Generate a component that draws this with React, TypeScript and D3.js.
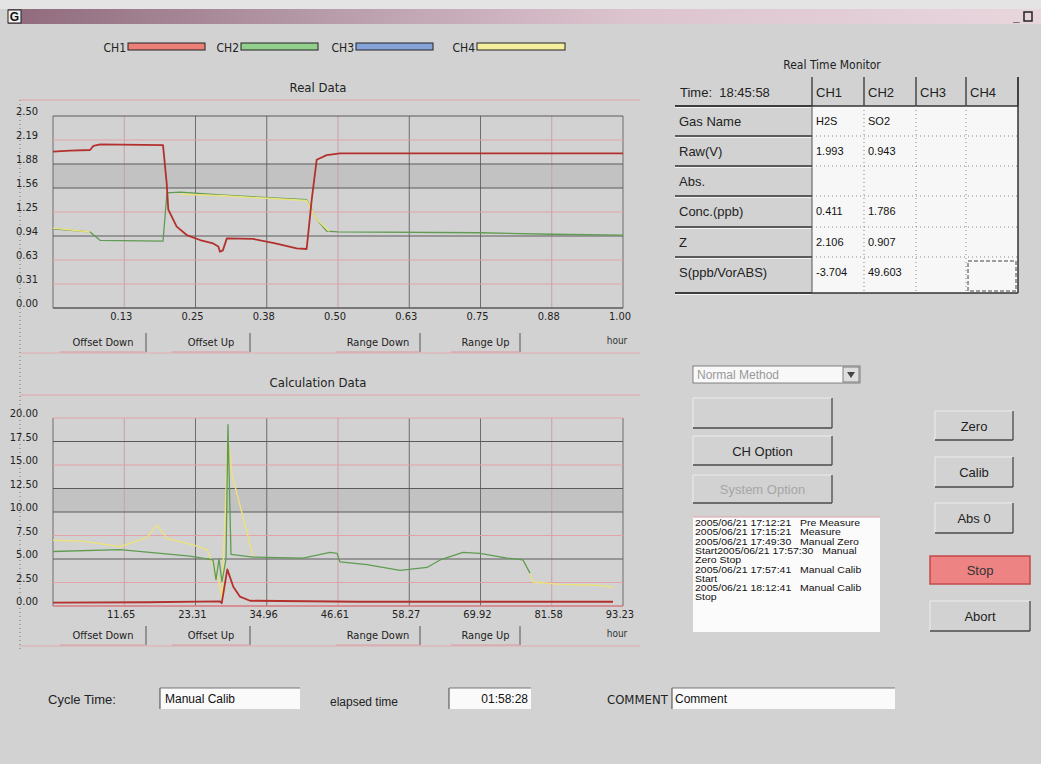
import React, { useEffect } from "react";
import * as d3 from "d3";

type Pt = [number, number | null];

// ---- Real Data (hours vs volts) ----
const realYLabels = ["0.00", "0.31", "0.63", "0.94", "1.25", "1.56", "1.88", "2.19", "2.50"];
const realXLabels = ["0.13", "0.25", "0.38", "0.50", "0.63", "0.75", "0.88", "1.00"];

const realCh1: Pt[] = [
  [0, 2.035], [0.03, 2.05], [0.065, 2.057], [0.071, 2.11], [0.083, 2.13], [0.193, 2.12],
  [0.1995, 1.62], [0.2023, 1.28], [0.217, 1.06], [0.2346, 0.95], [0.258, 0.885], [0.281, 0.84],
  [0.29, 0.8], [0.293, 0.733], [0.298, 0.75], [0.305, 0.907], [0.351, 0.9], [0.39, 0.84],
  [0.4275, 0.777], [0.445, 0.768], [0.4539, 1.41], [0.4626, 1.93], [0.4802, 1.99], [0.5035, 2.014],
  [1.0, 2.014],
];
const realCh2: Pt[] = [
  [0, 1.03], [0.065, 0.99], [0.083, 0.88], [0.193, 0.87], [0.2, 1.5], [0.223, 1.51],
  [0.3, 1.47], [0.445, 1.41], [0.463, 1.15], [0.48, 1.0], [0.5, 0.99], [0.75, 0.98],
  [0.875, 0.96], [1.0, 0.95],
];
const realCh4: Pt[] = [
  [0, 1.04], [0.065, 0.99], [0.07, null], [0.222, 1.48], [0.3, 1.46], [0.445, 1.4],
  [0.463, 1.15], [0.485, 1.0],
];

// ---- Calculation Data (hours vs ppb) ----
const calcYLabels = ["0.00", "2.50", "5.00", "7.50", "10.00", "12.50", "15.00", "17.50", "20.00"];
const calcXLabels = ["11.65", "23.31", "34.96", "46.61", "58.27", "69.92", "81.58", "93.23"];

const calcCh1: Pt[] = [
  [0, 0.35], [15.37, 0.4], [27.31, 0.5], [27.6, 0.3], [28.51, 3.9], [29.49, 2.05],
  [30.59, 0.99], [32.22, 0.56], [50, 0.45], [91.6, 0.45],
];
const calcCh2: Pt[] = [
  [0, 5.8], [10.96, 6.0], [22.41, 5.3], [26.17, 4.9], [26.66, 2.8], [27.15, 5.0],
  [27.64, 2.6], [28.3, 5.0], [28.62, 19.3], [29.11, 5.5], [32.71, 5.2], [40.89, 5.1],
  [45.31, 5.7], [46.45, 5.6], [46.94, 4.7], [51.36, 4.4], [56.76, 3.8], [61.17, 4.1],
  [63.3, 4.9], [67.06, 5.7], [69.84, 5.6], [74.26, 5.1], [76.87, 4.9], [78.02, 3.5],
];
const calcCh4: Pt[] = [
  [0, 7.0], [4.91, 6.9], [10.96, 6.3], [15.37, 7.3], [17.01, 8.6], [18.65, 7.2],
  [22.9, 6.5], [25.19, 6.0], [26.99, 3.0], [27.64, 0.8], [28.62, 18.0], [29.28, 14.0],
  [32.71, 5.3], [33.0, null], [78.02, 3.5], [78.51, 2.55], [82.93, 2.3], [89.47, 2.2], [91.6, 2.0],
];

// ---- legend / panel content ----
const channelNames = ["CH1", "CH2", "CH3", "CH4"];
const channelSwatch = ["#ec7f77", "#93cf8c", "#86a3d9", "#f3ef9c"];
const channelLine = ["#b3302c", "#5f9c52", "#6f8fcf", "#ece27c"];

const monitorTime = "Time:  18:45:58";
const rowLabels = ["Gas Name", "Raw(V)", "Abs.", "Conc.(ppb)", "Z", "S(ppb/VorABS)"];
const ch1Values = ["H2S", "1.993", "", "0.411", "2.106", "-3.704"];
const ch2Values = ["SO2", "0.943", "", "1.786", "0.907", "49.603"];

const chartButtons = ["Offset Down", "Offset Up", "Range Down", "Range Up"];
const logLines = [
  "2005/06/21 17:12:21   Pre Measure",
  "2005/06/21 17:15:21   Measure",
  "2005/06/21 17:49:30   Manual Zero",
  "Start2005/06/21 17:57:30   Manual",
  "Zero Stop",
  "2005/06/21 17:57:41   Manual Calib",
  "Start",
  "2005/06/21 18:12:41   Manual Calib",
  "Stop",
];

const NARROW = "'DejaVu Sans','Liberation Sans',sans-serif";
const SANS = "'Liberation Sans',Arial,sans-serif";
const COND = { fontStretch: "condensed" } as React.CSSProperties;
const BG = "#d2d2d2";
const DARK_GRID = "#5a5a5a";
const PINK_GRID = "#e2a2a8";

// gridline colour per horizontal tick (bottom to top)
const realHStyle = [DARK_GRID, PINK_GRID, PINK_GRID, DARK_GRID, PINK_GRID, DARK_GRID, DARK_GRID, PINK_GRID, DARK_GRID];
const calcHStyle = ["#d77a80", PINK_GRID, DARK_GRID, PINK_GRID, DARK_GRID, DARK_GRID, PINK_GRID, DARK_GRID, PINK_GRID];

// horizontal placement of the four buttons under each chart
const buttonSpans: [number, number][] = [[60, 146], [172, 250], [336, 420], [451, 520]];

type ChartProps = {
  title: string;
  titleY: number;
  frameY: number;
  yTop: number;
  yBot: number;
  xMax: number;
  yMax: number;
  xLabels: string[];
  yLabels: string[];
  hStyle: string[];
  band: number;
  series: { data: Pt[]; color: string; width: number }[];
  btnY: number;
};

function Chart(p: ChartProps) {
  const x = d3.scaleLinear().domain([0, p.xMax]).range([53, 623]);
  const y = d3.scaleLinear().domain([0, p.yMax]).range([p.yBot, p.yTop]);
  const step = p.yMax / (p.yLabels.length - 1);
  const yTicks = p.yLabels.map((_, i) => step * i);
  const xTicks = p.xLabels.map((_, i) => (p.xMax / p.xLabels.length) * (i + 1));
  const line = d3
    .line<Pt>()
    .defined((d) => d[1] !== null)
    .x((d) => x(d[0]))
    .y((d) => y(d[1] as number));
  return (
    <g>
      <text x={318} y={p.titleY} textAnchor="middle" fontFamily={NARROW} style={COND} fontSize={13} fill="#222">
        {p.title}
      </text>
      <line x1={20} x2={640} y1={p.frameY} y2={p.frameY} stroke={PINK_GRID} strokeWidth={1.2} />
      {/* shaded band */}
      <rect
        x={x(0)}
        y={y((p.band + 1) * step)}
        width={x(p.xMax) - x(0)}
        height={y(p.band * step) - y((p.band + 1) * step)}
        fill="#c2c2c2"
      />
      {/* vertical grid */}
      {[0, ...xTicks].map((t, i) => (
        <line key={"v" + i} x1={x(t)} x2={x(t)} y1={p.yTop} y2={p.yBot} stroke={i % 3 === 1 ? "#c9a0a6" : "#6d6d6d"} strokeWidth={1} />
      ))}
      {/* horizontal grid */}
      {yTicks.map((t, i) => (
        <line key={"h" + i} x1={x(0)} x2={x(p.xMax)} y1={y(t)} y2={y(t)} stroke={p.hStyle[i]} strokeWidth={i === 0 ? 1.4 : 1.2} />
      ))}
      {/* y labels */}
      {yTicks.map((t, i) => (
        <text key={"yl" + i} x={38} y={y(t) - 1} textAnchor="end" fontFamily={NARROW} style={COND} fontSize={11} fill="#222">
          {p.yLabels[i]}
        </text>
      ))}
      {/* x labels */}
      {xTicks.map((t, i) => (
        <text key={"xl" + i} x={x(t) - 3} y={p.yBot + 12} textAnchor="middle" fontFamily={NARROW} style={COND} fontSize={11} fill="#222">
          {p.xLabels[i]}
        </text>
      ))}
      {/* series */}
      {p.series.map((s, i) => (
        <path key={"s" + i} d={line(s.data) || ""} fill="none" stroke={s.color} strokeWidth={s.width} strokeLinejoin="round" />
      ))}
      {/* buttons */}
      {chartButtons.map((b, i) => {
        const [a, c] = buttonSpans[i];
        return (
          <g key={"b" + i}>
            <line x1={c} x2={c} y1={p.btnY} y2={p.btnY + 19} stroke="#555" />
            <line x1={a} x2={c} y1={p.btnY + 19} y2={p.btnY + 19} stroke="#d89aa0" />
            <text x={(a + c) / 2} y={p.btnY + 13} textAnchor="middle" fontFamily={NARROW} style={COND} fontSize={11} fill="#222">
              {b}
            </text>
          </g>
        );
      })}
      <text x={617} y={p.btnY + 11} textAnchor="middle" fontFamily={NARROW} style={COND} fontSize={10} fill="#333">
        hour
      </text>
      <line x1={20} x2={640} y1={p.btnY + 20} y2={p.btnY + 20} stroke={PINK_GRID} strokeWidth={0.8} />
    </g>
  );
}

function Button({ x, y, w, h, label, color = "#222", stroke = "#4a4a4a" }: any) {
  return (
    <g>
      <line x1={x} x2={x + w} y1={y} y2={y} stroke="#ececec" />
      <line x1={x} x2={x} y1={y} y2={y + h} stroke="#ececec" />
      <line x1={x + w} x2={x + w} y1={y} y2={y + h} stroke={stroke} strokeWidth={1.3} />
      <line x1={x} x2={x + w} y1={y + h} y2={y + h} stroke={stroke} strokeWidth={1.3} />
      {label && (
        <text x={x + w / 2} y={y + h / 2 + 5} textAnchor="middle" fontFamily={SANS} fontSize={13} fill={color}>
          {label}
        </text>
      )}
    </g>
  );
}

export default function App() {
  useEffect(() => {
    document.body.style.margin = "0";
  }, []);

  const colX = [675, 812, 864, 916, 966, 1018];
  const rowY = [77, 106, 136, 166, 196, 227, 257, 293];

  return (
    <svg width={1041} height={764} style={{ display: "block", position: "absolute", left: 0, top: 0 }}>
      <defs>
        <linearGradient id="titlebar" x1="0" x2="1" y1="0" y2="0">
          <stop offset="0" stopColor="#8f6a7c" />
          <stop offset="0.3" stopColor="#b69aa8" />
          <stop offset="0.6" stopColor="#dcc4cf" />
          <stop offset="1" stopColor="#e8d6dd" />
        </linearGradient>
      </defs>
      <rect x={0} y={0} width={1041} height={764} fill={BG} />
      <rect x={0} y={0} width={1041} height={9} fill="#e4e4e4" />

      {/* title bar */}
      <rect x={8} y={9} width={1033} height={15} fill="url(#titlebar)" />
      <rect x={8} y={10} width={13} height={13} fill="#f0f0f0" stroke="#222" />
      <text x={14.5} y={21} textAnchor="middle" fontFamily={SANS} fontWeight="bold" fontSize={12} fill="#111">
        G
      </text>
      <text x={1013} y={21} fontFamily={SANS} fontWeight="bold" fontSize={12} fill="#222">
        _
      </text>
      <rect x={1024} y={12} width={8} height={9} fill="none" stroke="#222" strokeWidth={1.5} />

      <line x1={20} x2={20} y1={100} y2={650} stroke="#777" strokeDasharray="1 3" />

      {/* legend */}
      {channelNames.map((c, i) => {
        const lx = [106, 219, 334, 455][i];
        return (
          <g key={c}>
            <text x={lx + 20} y={52} textAnchor="end" fontFamily={NARROW} style={COND} fontSize={12} fill="#222">
              {c}
            </text>
            <rect x={lx + 22} y={43} width={i === 3 ? 88 : 77} height={7} fill={channelSwatch[i]} stroke="#222" strokeWidth={1} />
          </g>
        );
      })}

      <Chart
        title="Real Data"
        titleY={92}
        frameY={100}
        yTop={116}
        yBot={308}
        xMax={1}
        yMax={2.5}
        xLabels={realXLabels}
        yLabels={realYLabels}
        hStyle={realHStyle}
        band={5}
        series={[
          { data: realCh2, color: channelLine[1], width: 1.3 },
          { data: realCh4, color: channelLine[3], width: 1.5 },
          { data: realCh1, color: channelLine[0], width: 1.8 },
        ]}
        btnY={333}
      />
      <Chart
        title="Calculation Data"
        titleY={387}
        frameY={395}
        yTop={418}
        yBot={606}
        xMax={93.23}
        yMax={20}
        xLabels={calcXLabels}
        yLabels={calcYLabels}
        hStyle={calcHStyle}
        band={4}
        series={[
          { data: calcCh4, color: channelLine[3], width: 1.4 },
          { data: calcCh2, color: channelLine[1], width: 1.3 },
          { data: calcCh1, color: channelLine[0], width: 1.8 },
        ]}
        btnY={626}
      />

      {/* Real Time Monitor table */}
      <text x={832} y={69} textAnchor="middle" fontFamily={NARROW} style={COND} fontSize={12} fill="#222">
        Real Time Monitor
      </text>
      <rect x={colX[1]} y={rowY[1]} width={colX[5] - colX[1]} height={rowY[7] - rowY[1]} fill="#f7f7f7" />
      {/* header */}
      <text x={680} y={97} fontFamily={SANS} fontSize={13} fill="#222" style={{ whiteSpace: "pre" }}>
        {monitorTime}
      </text>
      {channelNames.map((c, i) => (
        <text key={"hc" + c} x={colX[i + 1] + 4} y={97} fontFamily={SANS} fontSize={13} fill="#222">
          {c}
        </text>
      ))}
      {colX.slice(1).map((cx, i) => (
        <line key={"hv" + i} x1={cx} x2={cx} y1={rowY[0]} y2={rowY[1]} stroke="#333" strokeWidth={1.3} />
      ))}
      <line x1={colX[5]} x2={colX[5]} y1={rowY[0]} y2={rowY[7]} stroke="#333" strokeWidth={1.5} />
      {rowY.slice(1).map((ry, i) => (
        <g key={"rl" + i}>
          <line x1={colX[0]} x2={colX[1]} y1={ry} y2={ry} stroke="#333" strokeWidth={1.3} />
          <line x1={colX[0]} x2={colX[1]} y1={ry + 1.5} y2={ry + 1.5} stroke="#f2f2f2" strokeWidth={1} />
        </g>
      ))}
      <line x1={colX[0]} x2={colX[5]} y1={rowY[1]} y2={rowY[1]} stroke="#333" strokeWidth={1.3} />
      <line x1={colX[0]} x2={colX[5]} y1={rowY[7]} y2={rowY[7]} stroke="#333" strokeWidth={1.5} />
      <line x1={colX[1]} x2={colX[1]} y1={rowY[1]} y2={rowY[7]} stroke="#555" strokeWidth={1} />
      {/* dotted cell separators */}
      {rowY.slice(2, 7).map((ry, i) => (
        <line key={"dh" + i} x1={colX[1]} x2={colX[5]} y1={ry} y2={ry} stroke="#888" strokeDasharray="1 3" />
      ))}
      {colX.slice(2, 5).map((cx, i) => (
        <line key={"dv" + i} x1={cx} x2={cx} y1={rowY[1]} y2={rowY[7]} stroke="#888" strokeDasharray="1 3" />
      ))}
      <rect x={968} y={261} width={48} height={30} fill="none" stroke="#444" strokeDasharray="4 2" />
      {rowLabels.map((r, i) => (
        <text key={"r" + r} x={679} y={rowY[i + 1] + 20} fontFamily={SANS} fontSize={13} fill="#222">
          {r}
        </text>
      ))}
      {ch1Values.map((v, i) => (
        <text key={"c1" + i} x={colX[1] + 4} y={rowY[i + 1] + 19} fontFamily={SANS} fontSize={11} fill="#111">
          {v}
        </text>
      ))}
      {ch2Values.map((v, i) => (
        <text key={"c2" + i} x={colX[2] + 4} y={rowY[i + 1] + 19} fontFamily={SANS} fontSize={11} fill="#111">
          {v}
        </text>
      ))}

      {/* method selector */}
      <rect x={693} y={366} width={167} height={17} fill="#f8f8f8" stroke="#666" strokeWidth={0.8} />
      <text x={697} y={379} fontFamily={SANS} fontSize={12} fill="#999">
        Normal Method
      </text>
      <rect x={843} y={367} width={16} height={15} fill="#dedede" stroke="#666" strokeWidth={0.8} />
      <path d="M847,372 L855,372 L851,378 Z" fill="#444" />

      {/* option buttons */}
      <Button x={693} y={398} w={139} h={30} label="" />
      <Button x={693} y={436} w={139} h={29} label="CH Option" />
      <Button x={693} y={475} w={139} h={28} label="System Option" color="#a6a6a6" />

      {/* event log */}
      <rect x={693} y={517} width={187} height={115} fill="#fbfbfb" />
      <line x1={693} x2={880} y1={517} y2={517} stroke={PINK_GRID} />
      {logLines.map((l, i) => (
        <text
          key={"log" + i}
          transform={`translate(695,${526 + i * 9.3}) scale(1,0.84)`}
          fontFamily={SANS}
          fontSize={10.5}
          fill="#111"
          style={{ whiteSpace: "pre" }}
        >
          {l}
        </text>
      ))}

      {/* action buttons */}
      <Button x={935} y={411} w={78} h={29} label="Zero" />
      <Button x={935} y={457} w={78} h={30} label="Calib" />
      <Button x={935} y={503} w={78} h={30} label="Abs 0" />
      <rect x={930} y={556} width={100} height={28} fill="#ee8383" stroke="#c24a4a" strokeWidth={1.5} />
      <text x={980} y={575} textAnchor="middle" fontFamily={SANS} fontSize={13} fill="#333">
        Stop
      </text>
      <Button x={930} y={601} w={100} h={30} label="Abort" />

      {/* status row */}
      <text x={48} y={704} fontFamily={SANS} fontSize={13} fill="#222">
        Cycle Time:
      </text>
      <rect x={160} y={688} width={140} height={21} fill="#fafafa" />
      <line x1={160} x2={160} y1={688} y2={709} stroke="#444" />
      <line x1={160} x2={300} y1={688} y2={688} stroke="#777" />
      <text x={165} y={703} fontFamily={SANS} fontSize={12} fill="#111">
        Manual Calib
      </text>
      <text x={330} y={706} fontFamily={SANS} fontSize={12} fill="#222">
        elapsed time
      </text>
      <rect x={449} y={688} width={82} height={21} fill="#fafafa" />
      <line x1={449} x2={449} y1={688} y2={709} stroke="#444" />
      <line x1={449} x2={531} y1={688} y2={688} stroke="#777" />
      <text x={528} y={703} textAnchor="end" fontFamily={SANS} fontSize={12} fill="#111">
        01:58:28
      </text>
      <text x={607} y={704} fontFamily={NARROW} style={COND} fontSize={13} fill="#222">
        COMMENT
      </text>
      <rect x={672} y={688} width={223} height={21} fill="#fafafa" />
      <line x1={672} x2={672} y1={688} y2={709} stroke="#444" />
      <line x1={672} x2={895} y1={688} y2={688} stroke="#777" />
      <text x={675} y={703} fontFamily={SANS} fontSize={12} fill="#111">
        Comment
      </text>
    </svg>
  );
}
